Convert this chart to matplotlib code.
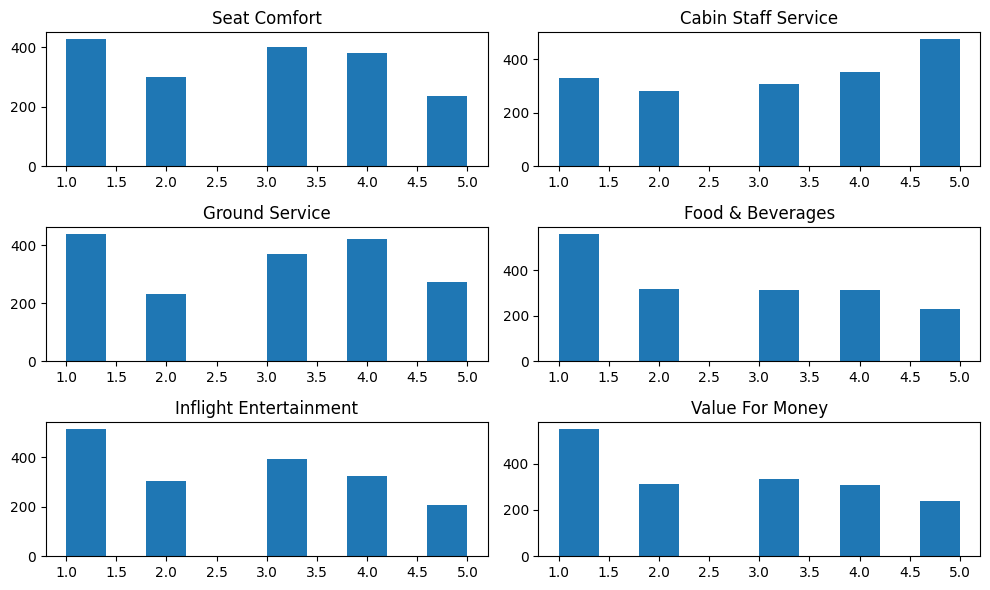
import matplotlib
matplotlib.use("Agg")
import matplotlib.pyplot as plt
import numpy as np

ratings = [1, 2, 3, 4, 5]
titles = ["Seat Comfort", "Cabin Staff Service", "Ground Service",
          "Food & Beverages", "Inflight Entertainment", "Value For Money"]
seat_comfort = [428, 300, 401, 381, 236]
cabin_staff = [330, 281, 307, 352, 476]
ground_service = [440, 232, 371, 423, 274]
food_beverages = [562, 319, 314, 314, 230]
inflight_ent = [515, 304, 393, 324, 207]
value_money = [550, 312, 334, 308, 238]

series = [seat_comfort, cabin_staff, ground_service,
          food_beverages, inflight_ent, value_money]

fig, axes = plt.subplots(3, 2, figsize=(10, 6), dpi=100)
for ax, title, counts in zip(axes.flat, titles, series):
    ax.hist(ratings, bins=10, weights=counts, color="#1f77b4")
    ax.set_title(title)
fig.tight_layout()
fig.savefig("out.png", bbox_inches="tight")
